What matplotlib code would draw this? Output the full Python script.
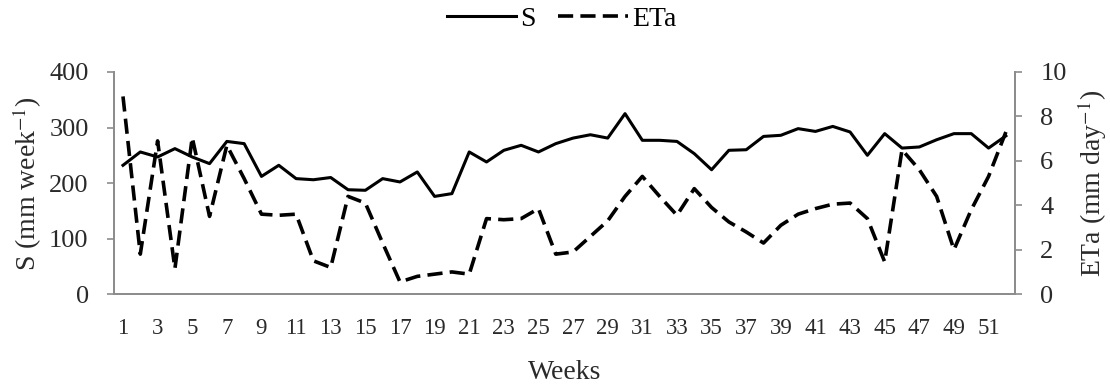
import matplotlib
matplotlib.use("Agg")
import matplotlib.pyplot as plt
import numpy as np

plt.rcParams['font.family'] = ['Liberation Serif', 'DejaVu Serif']
plt.rcParams['mathtext.fontset'] = 'stix'

# weekly values
weeks = np.arange(1, 53)
s_vals = [232, 256, 247, 262, 247, 235, 275, 271, 212, 232,
          208, 206, 210, 188, 187, 208, 202, 220, 176, 181,
          256, 238, 259, 268, 256, 271, 281, 287, 281, 325,
          277, 277, 275, 253, 224, 259, 260, 284, 286, 298,
          293, 302, 292, 250, 289, 263, 265, 278, 289, 289,
          263, 285]
eta_vals = [8.9, 1.8, 6.9, 1.15, 7.05, 3.5, 6.7, 5.2, 3.6, 3.55,
            3.6, 1.5, 1.2, 4.4, 4.1, 2.3, 0.55, 0.8, 0.9, 1.0,
            0.9, 3.4, 3.35, 3.4, 3.85, 1.8, 1.9, 2.6, 3.3, 4.4,
            5.3, 4.4, 3.55, 4.75, 3.9, 3.25, 2.8, 2.3, 3.1, 3.6,
            3.85, 4.05, 4.1, 3.4, 1.45, 6.5, 5.6, 4.4, 2.0, 3.8,
            5.3, 7.3]
tick_weeks = list(range(1, 53, 2))

fig = plt.figure(figsize=(11.1, 3.85), dpi=100)
ax = fig.add_axes([0.103, 0.236, 0.811, 0.577])
ax2 = ax.twinx()

l1, = ax.plot(weeks, s_vals, color='black', lw=2.2, label='S')
l2, = ax2.plot(weeks, eta_vals, color='black', lw=2.6, dashes=(4.2, 2.0), label='ETa')

ax.set_xlim(0.5, 52.5)
ax.set_ylim(0, 400)
ax2.set_ylim(0, 10)
ax.set_yticks([0, 100, 200, 300, 400])
ax2.set_yticks([0, 2, 4, 6, 8, 10])
ax.set_xticks(tick_weeks)
ax.set_xticklabels([str(w) for w in tick_weeks])

spine_col = '#8c8c8c'
txt_col = '#2a2a2a'
for a in (ax, ax2):
    a.spines['top'].set_visible(False)
    for sp in ('left', 'right', 'bottom'):
        a.spines[sp].set_color(spine_col)
        a.spines[sp].set_linewidth(1.3)
    a.tick_params(axis='y', colors=spine_col, labelcolor=txt_col,
                  labelsize=19, length=5, width=1.2, pad=13.5)
ax.tick_params(axis='x', length=0, labelsize=16.5, labelcolor=txt_col, pad=17.5)

ax.set_xlabel('Weeks', fontsize=20, color=txt_col, labelpad=15)
ax.set_ylabel(r'S (mm week$^{-1}$)', fontsize=20, color=txt_col, labelpad=4)
ax2.set_ylabel(r'ETa (mm day$^{-1}$)', fontsize=20, color=txt_col, labelpad=6)

fig.legend(handles=[l1, l2], loc='center', bbox_to_anchor=(0.506, 0.95),
           ncol=2, frameon=False, fontsize=20, handlelength=2.5,
           handletextpad=0.15, columnspacing=0.8)

fig.savefig('out.png', dpi=100)
